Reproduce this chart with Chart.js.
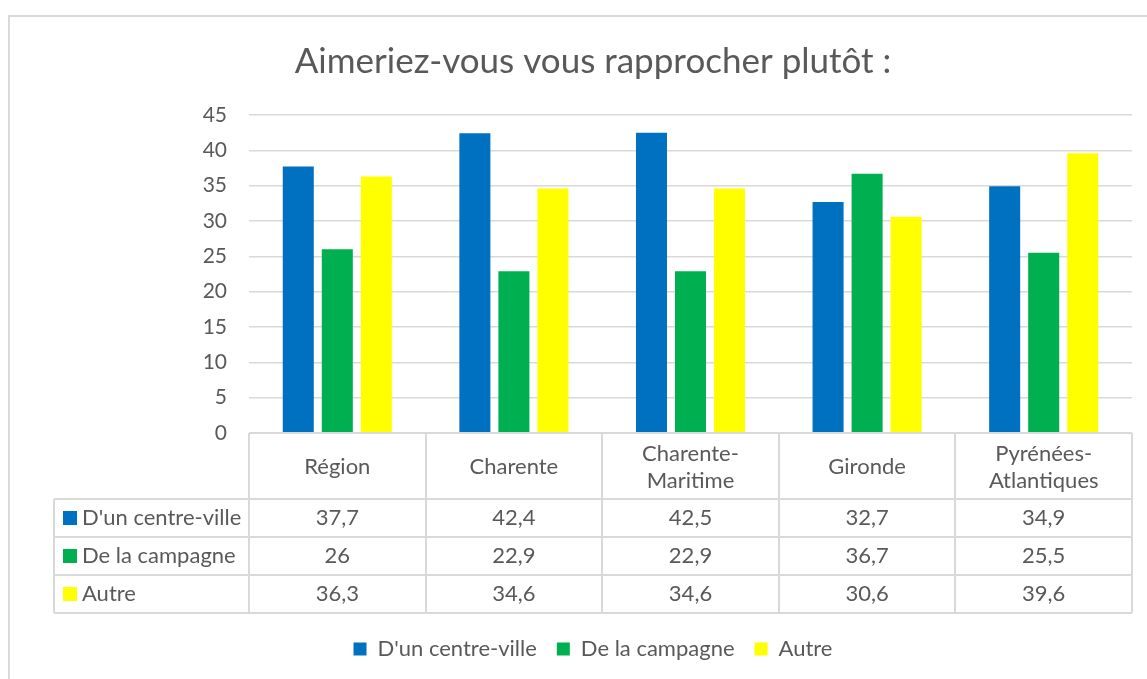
<!DOCTYPE html>
<html>
<head>
    <title>Aimeriez-vous vous rapprocher plutôt</title>
    <script src="https://cdn.jsdelivr.net/npm/chart.js"></script>
    <style>
        body { margin: 0; background: #fff; overflow: hidden; }
        .frame { position: absolute; left: 8px; top: 15px; width: 1200px; height: 700px; border: 2px solid #d9d9d9; }
        .chart { position: absolute; left: 0; top: 0; }
    </style>
</head>
<body>
    <div class="frame"></div>
    <div class="chart"><canvas id="barChart" width="1147" height="679"></canvas></div>
    <script>
        const categories = ['Région', 'Charente', ['Charente-', 'Maritime'], 'Gironde', ['Pyrénées-', 'Atlantiques']];
        const seriesNames = ["D'un centre-ville", 'De la campagne', 'Autre'];
        const centreVille = [37.7, 42.4, 42.5, 32.7, 34.9];
        const campagne = [26, 22.9, 22.9, 36.7, 25.5];
        const autre = [36.3, 34.6, 34.6, 30.6, 39.6];
        const yMax = 45;
        const yStep = 5;

        const FONT = 'Lato';
        const TEXT = '#595959';
        const LINE = '#d9d9d9';

        function fmt(v) {
            return String(v).replace('.', ',');
        }

        // data table under the plot, lined up on the x scale
        const dataTable = {
            id: 'dataTable',
            afterDraw(chart) {
                const ctx = chart.ctx;
                const x = chart.scales.x;
                const top = chart.chartArea.bottom;
                const headH = 66, rowH = 38, tableLeft = 54;
                const rowsTop = top + headH;
                const bottom = rowsTop + rowH * chart.data.datasets.length;

                ctx.save();
                ctx.strokeStyle = LINE;
                ctx.lineWidth = 2;
                ctx.beginPath();
                for (let i = 0; i <= categories.length; i++) {
                    const px = Math.round(x.getPixelForValue(i - 0.5));
                    ctx.moveTo(px, top);
                    ctx.lineTo(px, bottom);
                }
                ctx.moveTo(tableLeft, rowsTop);
                ctx.lineTo(tableLeft, bottom);
                ctx.moveTo(x.left, top);
                ctx.lineTo(x.right, top);
                for (let r = 0; r <= chart.data.datasets.length; r++) {
                    const py = rowsTop + r * rowH;
                    ctx.moveTo(tableLeft, py);
                    ctx.lineTo(x.right, py);
                }
                ctx.stroke();

                ctx.font = '22px ' + FONT;
                ctx.textBaseline = 'middle';
                chart.data.datasets.forEach((ds, r) => {
                    const cy = rowsTop + r * rowH + rowH / 2;
                    ctx.fillStyle = ds.backgroundColor;
                    ctx.fillRect(63, cy - 7, 14, 14);
                    ctx.fillStyle = TEXT;
                    ctx.textAlign = 'left';
                    ctx.fillText(ds.label, 82, cy);
                    ctx.textAlign = 'center';
                    ds.data.forEach((v, i) => ctx.fillText(fmt(v), x.getPixelForValue(i), cy));
                });
                ctx.restore();
            }
        };

        const ctx = document.getElementById('barChart').getContext('2d');
        new Chart(ctx, {
            type: 'bar',
            data: {
                labels: categories,
                datasets: [
                    { label: seriesNames[0], data: centreVille, backgroundColor: '#0070c0' },
                    { label: seriesNames[1], data: campagne, backgroundColor: '#00b050' },
                    { label: seriesNames[2], data: autre, backgroundColor: '#ffff00' }
                ]
            },
            options: {
                responsive: false,
                animation: false,
                datasets: {
                    bar: { categoryPercentage: 0.663, barPercentage: 0.795, borderWidth: 0 }
                },
                layout: { padding: { left: 54, right: 15, top: 0, bottom: 9 } },
                plugins: {
                    title: {
                        display: true,
                        text: 'Aimeriez-vous vous rapprocher plutôt :',
                        color: TEXT,
                        font: { family: FONT, size: 35, weight: 'normal', lineHeight: 1.2 },
                        padding: { top: 41, bottom: 32 }
                    },
                    legend: {
                        position: 'bottom',
                        labels: {
                            boxWidth: 13,
                            boxHeight: 13,
                            padding: 20,
                            color: TEXT,
                            font: { family: FONT, size: 22 }
                        }
                    },
                    tooltip: { enabled: false }
                },
                scales: {
                    x: {
                        grid: { display: false },
                        border: { display: false },
                        ticks: {
                            color: TEXT,
                            font: { family: FONT, size: 22, lineHeight: 1.227 },
                            padding: 12.5,
                            crossAlign: 'center',
                            maxRotation: 0,
                            autoSkip: false
                        },
                        afterFit(scale) { scale.height = 185; }
                    },
                    y: {
                        min: 0,
                        max: yMax,
                        ticks: {
                            stepSize: yStep,
                            padding: 22,
                            color: TEXT,
                            font: { family: FONT, size: 21 }
                        },
                        grid: { color: LINE, lineWidth: 1.5, drawTicks: false },
                        border: { display: false },
                        afterFit(scale) { scale.width = 195; }
                    }
                }
            },
            plugins: [dataTable]
        });
    </script>
</body>
</html>
